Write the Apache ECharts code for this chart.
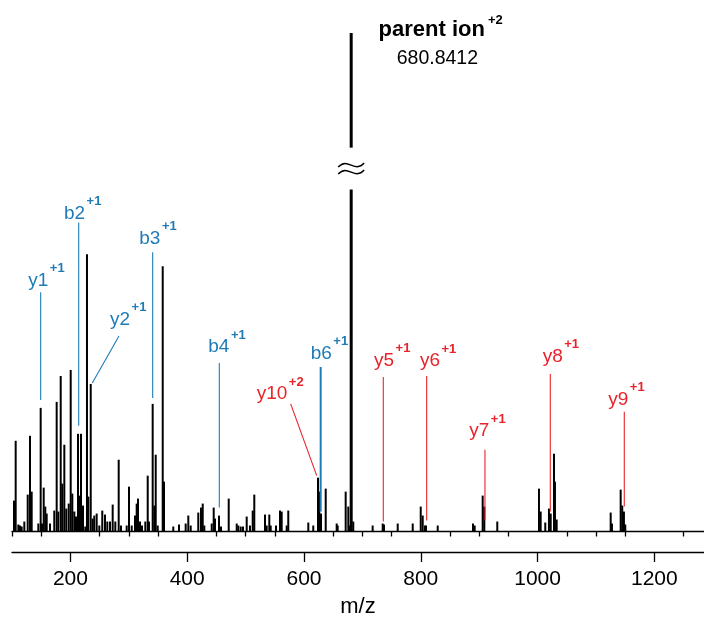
<!DOCTYPE html>
<html>
<head>
<meta charset="utf-8">
<style>html,body{margin:0;padding:0;background:#fff}#c{width:704px;height:623px}</style>
<script src="https://cdn.jsdelivr.net/npm/echarts@6/dist/echarts.min.js"></script>
</head>
<body>
<div id="c"></div>
<script>
// ---- data ----
const peakMz = [103.4,106.3,110.8,113.7,116.6,121.1,126.9,130.8,133.7,145.1,149.1,151.4,154.3,157.0,159.4,165.1,172.4,176.5,179.3,183.4,186.1,189.6,193.0,197.1,200.5,203.3,206.7,209.6,213.0,214.7,218.2,221.6,225.5,228.4,230.7,234.8,238.2,240.9,245.0,249.5,254.6,259.3,263.2,267.8,272.4,276.9,282.7,286.7,296.4,300.4,305.0,310.6,313.5,315.8,319.2,322.6,328.3,332.4,334.6,340.9,343.7,346.1,349.5,358.1,360.3,376.2,386.0,
397.4,401.9,406.0,419.0,423.6,426.6,429.3,442.0,445.4,447.6,454.5,457.9,471.1,484.8,487.5,491.6,495.6,501.9,507.5,512.2,514.9,533.2,536.1,540.6,543.0,552.1,558.9,561.8,570.4,573.1,607.4,615.9,624.0,626.2,629.1,637.2,656.0,657.7,671.4,675.9,678.8,684.4,
717.6,734.8,737.0,760.5,786.2,799.9,803.3,807.2,808.9,829.0,889.4,892.3,906.0,908.8,931.0,1002.4,1005.3,1013.2,1019.5,1022.5,1028.1,1029.8,1032.7,1125.2,1127.4,1142.3,1145.0,1147.9,1150.2];
const peakInt = [31,91,7,6,5,10,37,96,40,8,124,8,44,25,18,8,21,130,20,156,48,87,23,28,162,38,20,15,98,36,98,26,5,278,35,148,13,16,18,6,21,17,10,10,27,10,72,6,6,45,6,16,28,33,10,6,10,56,10,128,26,77,6,266,50,5,7,
8,16,6,19,24,28,6,8,24,13,16,5,33,8,6,5,5,15,6,21,37,17,6,17,6,6,21,20,6,21,9,6,54,40,18,43,8,6,40,25,6,10,
6,8,7,8,8,25,16,6,6,6,8,6,36,25,10,43,20,9,23,18,78,50,12,19,8,42,26,20,7];

// parent ion: m/z, intensity, break low, break high
const parentMz = [680.84];
const parentInt = [500];
const parentBreak = [[343, 385]];
const parentTitle = 'parent ion';
const parentCharge = '+2';
const parentValue = '680.8412';
const parentTitleAt = [727.8, 495.5];
const parentValueAt = [758.8, 467];

// fragment annotations
const annNames   = ['y1','b2','b3','y2','b4','b6','y10','y5','y6','y7','y8','y9'];
const annCharges = ['+1','+1','+1','+1','+1','+1','+2','+1','+1','+1','+1','+1'];
const annGroup   = [0,0,0,0,0,0,1,1,1,1,1,1]; // 0 = blue, 1 = red
const annTopMz   = [149.1,214.2,340.9,283.2,455.0,628.6,577.2,735.8,810.1,909.9,1021.8,1148.5];
const annTopInt  = [240,310,280,196,169,165,128,155,156,82,158,120];
const annBotMz   = [149.1,214.2,340.9,237.5,455.0,628.6,621.8,735.8,810.1,909.9,1021.8,1148.5];
const annBotInt  = [132,106,134,149,24,20,56,10,11,11,20,25];
const annLabelMz = [127.9,189.0,318.0,267.8,436.1,611.5,519.0,719.9,798.6,883.1,1008.8,1121.1];
const annLabelInt= [245,312,287,206,178.5,172,131.4,165,164.5,94,169,125.5];

const majorTicks = [200,400,600,800,1000,1200];
const minorTicks = [100,150,250,300,350,450,500,550,650,700,750,850,900,950,1050,1100,1150,1250];

// ---- chart ----
const FONT = "'Liberation Sans', Arial, sans-serif";
const COLORS = ['#1f7bb6', '#e8232b'];
const mctx = document.createElement('canvas').getContext('2d');
function textW(t, font){ mctx.font = font; return mctx.measureText(t).width; }

const chart = echarts.init(document.getElementById('c'), null, {renderer:'canvas'});

const peakData = peakMz.map((m,i)=>[m, peakInt[i]]);
const annData = annNames.map((n,i)=>[annTopMz[i],annTopInt[i],annBotMz[i],annBotInt[i],annLabelMz[i],annLabelInt[i]]);

const axisBase = {type:'value', min:100, max:1285, position:'bottom', splitLine:{show:false}};

chart.setOption({
  animation:false,
  backgroundColor:'#fff',
  grid:{left:12, right:0, top:33, bottom:90},
  xAxis:[
    Object.assign({}, axisBase, {
      axisLine:{show:true, onZero:false, lineStyle:{color:'#000', width:1.3}},
      axisTick:{show:false}, axisLabel:{show:false}
    }),
    Object.assign({}, axisBase, {
      offset:20.5,
      axisLine:{show:true, onZero:false, lineStyle:{color:'#000', width:1.3}},
      axisTick:{show:true, length:10, customValues:majorTicks, lineStyle:{color:'#000', width:1.3}},
      axisLabel:{show:true, customValues:majorTicks, fontSize:21, color:'#000', fontFamily:FONT, margin:17,
                 formatter:function(v){ return String(v); }},
      name:'m/z', nameLocation:'middle', nameGap:44,
      nameTextStyle:{fontSize:22, color:'#000', fontFamily:FONT}
    }),
    Object.assign({}, axisBase, {
      offset:20.5,
      axisLine:{show:false},
      axisTick:{show:true, length:5, customValues:minorTicks, lineStyle:{color:'#000', width:1.3}},
      axisLabel:{show:false}
    })
  ],
  yAxis:{type:'value', min:0, max:500, show:false},
  series:[
    {
      type:'custom', xAxisIndex:0, yAxisIndex:0, data:peakData, clip:false,
      renderItem:function(params, api){
        const x = api.value(0), y = api.value(1);
        const p0 = api.coord([x,0]), p1 = api.coord([x,y]);
        return {type:'line', shape:{x1:p0[0], y1:p0[1], x2:p1[0], y2:p1[1]}, style:{stroke:'#000', lineWidth:2}};
      }
    },
    {
      type:'custom', xAxisIndex:0, yAxisIndex:0, clip:false,
      data: parentMz.map((m,i)=>[m, parentInt[i], parentBreak[i][0], parentBreak[i][1]]),
      renderItem:function(params, api){
        const x = api.value(0), top = api.value(1), lo = api.value(2), hi = api.value(3);
        const b = api.coord([x,0]), l = api.coord([x,lo]), h = api.coord([x,hi]), t = api.coord([x,top]);
        const cy = (l[1]+h[1])/2, cx = b[0], w = 26, hh = 5.5;
        const wave = (yc)=>({type:'bezierCurve', shape:{x1:cx-w/2, y1:yc+2, cpx1:cx-w/2+w*0.38, cpy1:yc-hh*1.6, cpx2:cx-w/2+w*0.62, cpy2:yc+hh*1.6, x2:cx+w/2, y2:yc-2}, style:{stroke:'#000', lineWidth:1.4, fill:null}});
        const ttl = api.coord(parentTitleAt), val = api.coord(parentValueAt);
        const tFont = 'bold 22px ' + FONT;
        const tw = textW(parentTitle, tFont);
        return {type:'group', children:[
          {type:'line', shape:{x1:cx, y1:b[1], x2:cx, y2:l[1]}, style:{stroke:'#000', lineWidth:3}},
          {type:'line', shape:{x1:cx, y1:h[1], x2:cx, y2:t[1]}, style:{stroke:'#000', lineWidth:3}},
          wave(cy-3.5), wave(cy+3.5),
          {type:'text', style:{text:parentTitle, x:ttl[0], y:ttl[1]-0.35*22, font:tFont, fill:'#000', align:'left', verticalAlign:'middle'}},
          {type:'text', style:{text:parentCharge, x:ttl[0]+tw+3, y:ttl[1]-12.5-0.35*13, font:'bold 13px '+FONT, fill:'#000', align:'left', verticalAlign:'middle'}},
          {type:'text', style:{text:parentValue, x:val[0], y:val[1]-0.35*19.5, font:'19.5px '+FONT, fill:'#000', align:'left', verticalAlign:'middle'}}
        ]};
      }
    },
    {
      type:'custom', xAxisIndex:0, yAxisIndex:0, data:annData, clip:false,
      renderItem:function(params, api){
        const i = params.dataIndex;
        const col = COLORS[annGroup[i]];
        const p1 = api.coord([api.value(0), api.value(1)]);
        const p2 = api.coord([api.value(2), api.value(3)]);
        const lb = api.coord([api.value(4), api.value(5)]);
        const mFont = '19px ' + FONT, sFont = 'bold 13px ' + FONT;
        const mw = textW(annNames[i], mFont);
        return {type:'group', children:[
          {type:'line', shape:{x1:p1[0], y1:p1[1], x2:p2[0], y2:p2[1]}, style:{stroke:col, lineWidth: annNames[i]==='b6' ? 2 : 1.1}},
          {type:'text', style:{text:annNames[i], x:lb[0], y:lb[1]-0.35*19, font:mFont, fill:col, align:'left', verticalAlign:'middle'}},
          {type:'text', style:{text:annCharges[i], x:lb[0]+mw+1.5, y:lb[1]-14-0.35*13, font:sFont, fill:col, align:'left', verticalAlign:'middle'}}
        ]};
      }
    }
  ]
});
</script>
</body>
</html>
